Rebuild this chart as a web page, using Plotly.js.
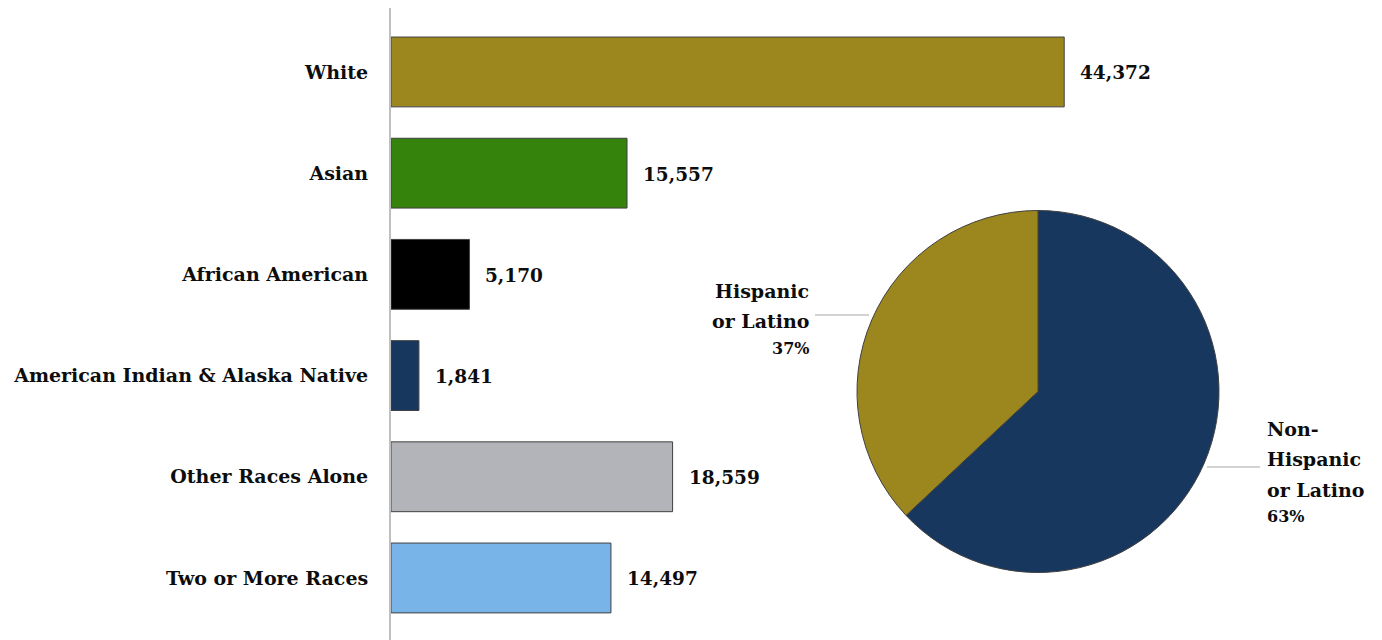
<!DOCTYPE html>
<html>
<head>
<meta charset="utf-8">
<script src="https://cdn.plot.ly/plotly-3.0.1.min.js"></script>
<style>html,body{margin:0;padding:0;background:#fff;}#chart{width:1382px;height:640px;}</style>
</head>
<body>
<div id="chart"></div>
<script>
const categories = ["White", "Asian", "African American", "American Indian & Alaska Native", "Other Races Alone", "Two or More Races"];
const populations = [44372, 15557, 5170, 1841, 18559, 14497];
const barColors = ["#9b871e", "#35820c", "#000000", "#17375e", "#b3b4ba", "#78b4e8"];
const pieLabels = ["Non-Hispanic or Latino", "Hispanic or Latino"];
const pieShares = [63, 37];
const pieColors = ["#17375e", "#9b871e"];

const FONT = "DejaVu Serif";
const W = 1382, H = 640, L = 391, T = 8;
const px = v => (v - L) / (W - L);
const py = v => (H - v) / (H - T);

const bar = {
  type: "bar", orientation: "h",
  x: populations, y: categories,
  marker: {color: barColors, line: {color: "#404040", width: 1}},
  hoverinfo: "none", showlegend: false
};
const pie = {
  type: "pie", values: pieShares, labels: pieLabels,
  marker: {colors: pieColors, line: {color: "#404040", width: 1}},
  sort: false, direction: "clockwise", rotation: 0,
  textinfo: "none", hoverinfo: "none", showlegend: false,
  domain: {x: [px(857), px(1219)], y: [py(573), py(210)]}
};

const valueNotes = populations.map((v, i) => ({
  x: v, y: categories[i], xref: "x", yref: "y",
  text: v.toLocaleString("en-US"), showarrow: false,
  xanchor: "left", xshift: 14, yshift: -1,
  font: {family: FONT, size: 18.5, color: "#0d0d0d", weight: "bold"}
}));

const pieNotes = [
  {x: px(811), y: py(291), text: "Hispanic", xanchor: "right", font: {size: 19}},
  {x: px(811), y: py(321), text: "or Latino", xanchor: "right", font: {size: 19}},
  {x: px(811), y: py(348), text: pieShares[1] + "%", xanchor: "right", font: {size: 16}},
  {x: px(1265), y: py(429), text: "Non-", xanchor: "left", font: {size: 19}},
  {x: px(1265), y: py(459), text: "Hispanic", xanchor: "left", font: {size: 19}},
  {x: px(1265), y: py(490), text: "or Latino", xanchor: "left", font: {size: 19}},
  {x: px(1265), y: py(516), text: pieShares[0] + "%", xanchor: "left", font: {size: 16}}
].map(a => Object.assign({xref: "paper", yref: "paper", showarrow: false, yanchor: "middle"}, a,
  {font: Object.assign({family: FONT, color: "#0d0d0d", weight: "bold"}, a.font)}));

const layout = {
  width: W, height: H,
  margin: {l: L, r: 0, t: T, b: 0},
  paper_bgcolor: "#fff", plot_bgcolor: "#fff",
  bargap: 0.31,
  xaxis: {range: [0, (W - L) / 0.015172], showgrid: false, zeroline: false, showticklabels: false, showline: false, fixedrange: true},
  yaxis: {range: [5.613, -0.632], showgrid: false, zeroline: false, showline: true, linecolor: "#bfbfbf", linewidth: 2,
          ticks: "", ticklabelstandoff: 17,
          tickfont: {family: FONT, size: 19, color: "#0d0d0d", weight: "bold"}},
  annotations: valueNotes.concat(pieNotes),
  shapes: [
    {type: "line", xref: "paper", yref: "paper", x0: px(815), x1: px(869), y0: py(315), y1: py(315), line: {color: "#a6a6a6", width: 1}},
    {type: "line", xref: "paper", yref: "paper", x0: px(1207), x1: px(1260), y0: py(467), y1: py(467), line: {color: "#a6a6a6", width: 1}}
  ]
};

Plotly.newPlot("chart", [bar, pie], layout, {displayModeBar: false, staticPlot: true});
</script>
</body>
</html>
